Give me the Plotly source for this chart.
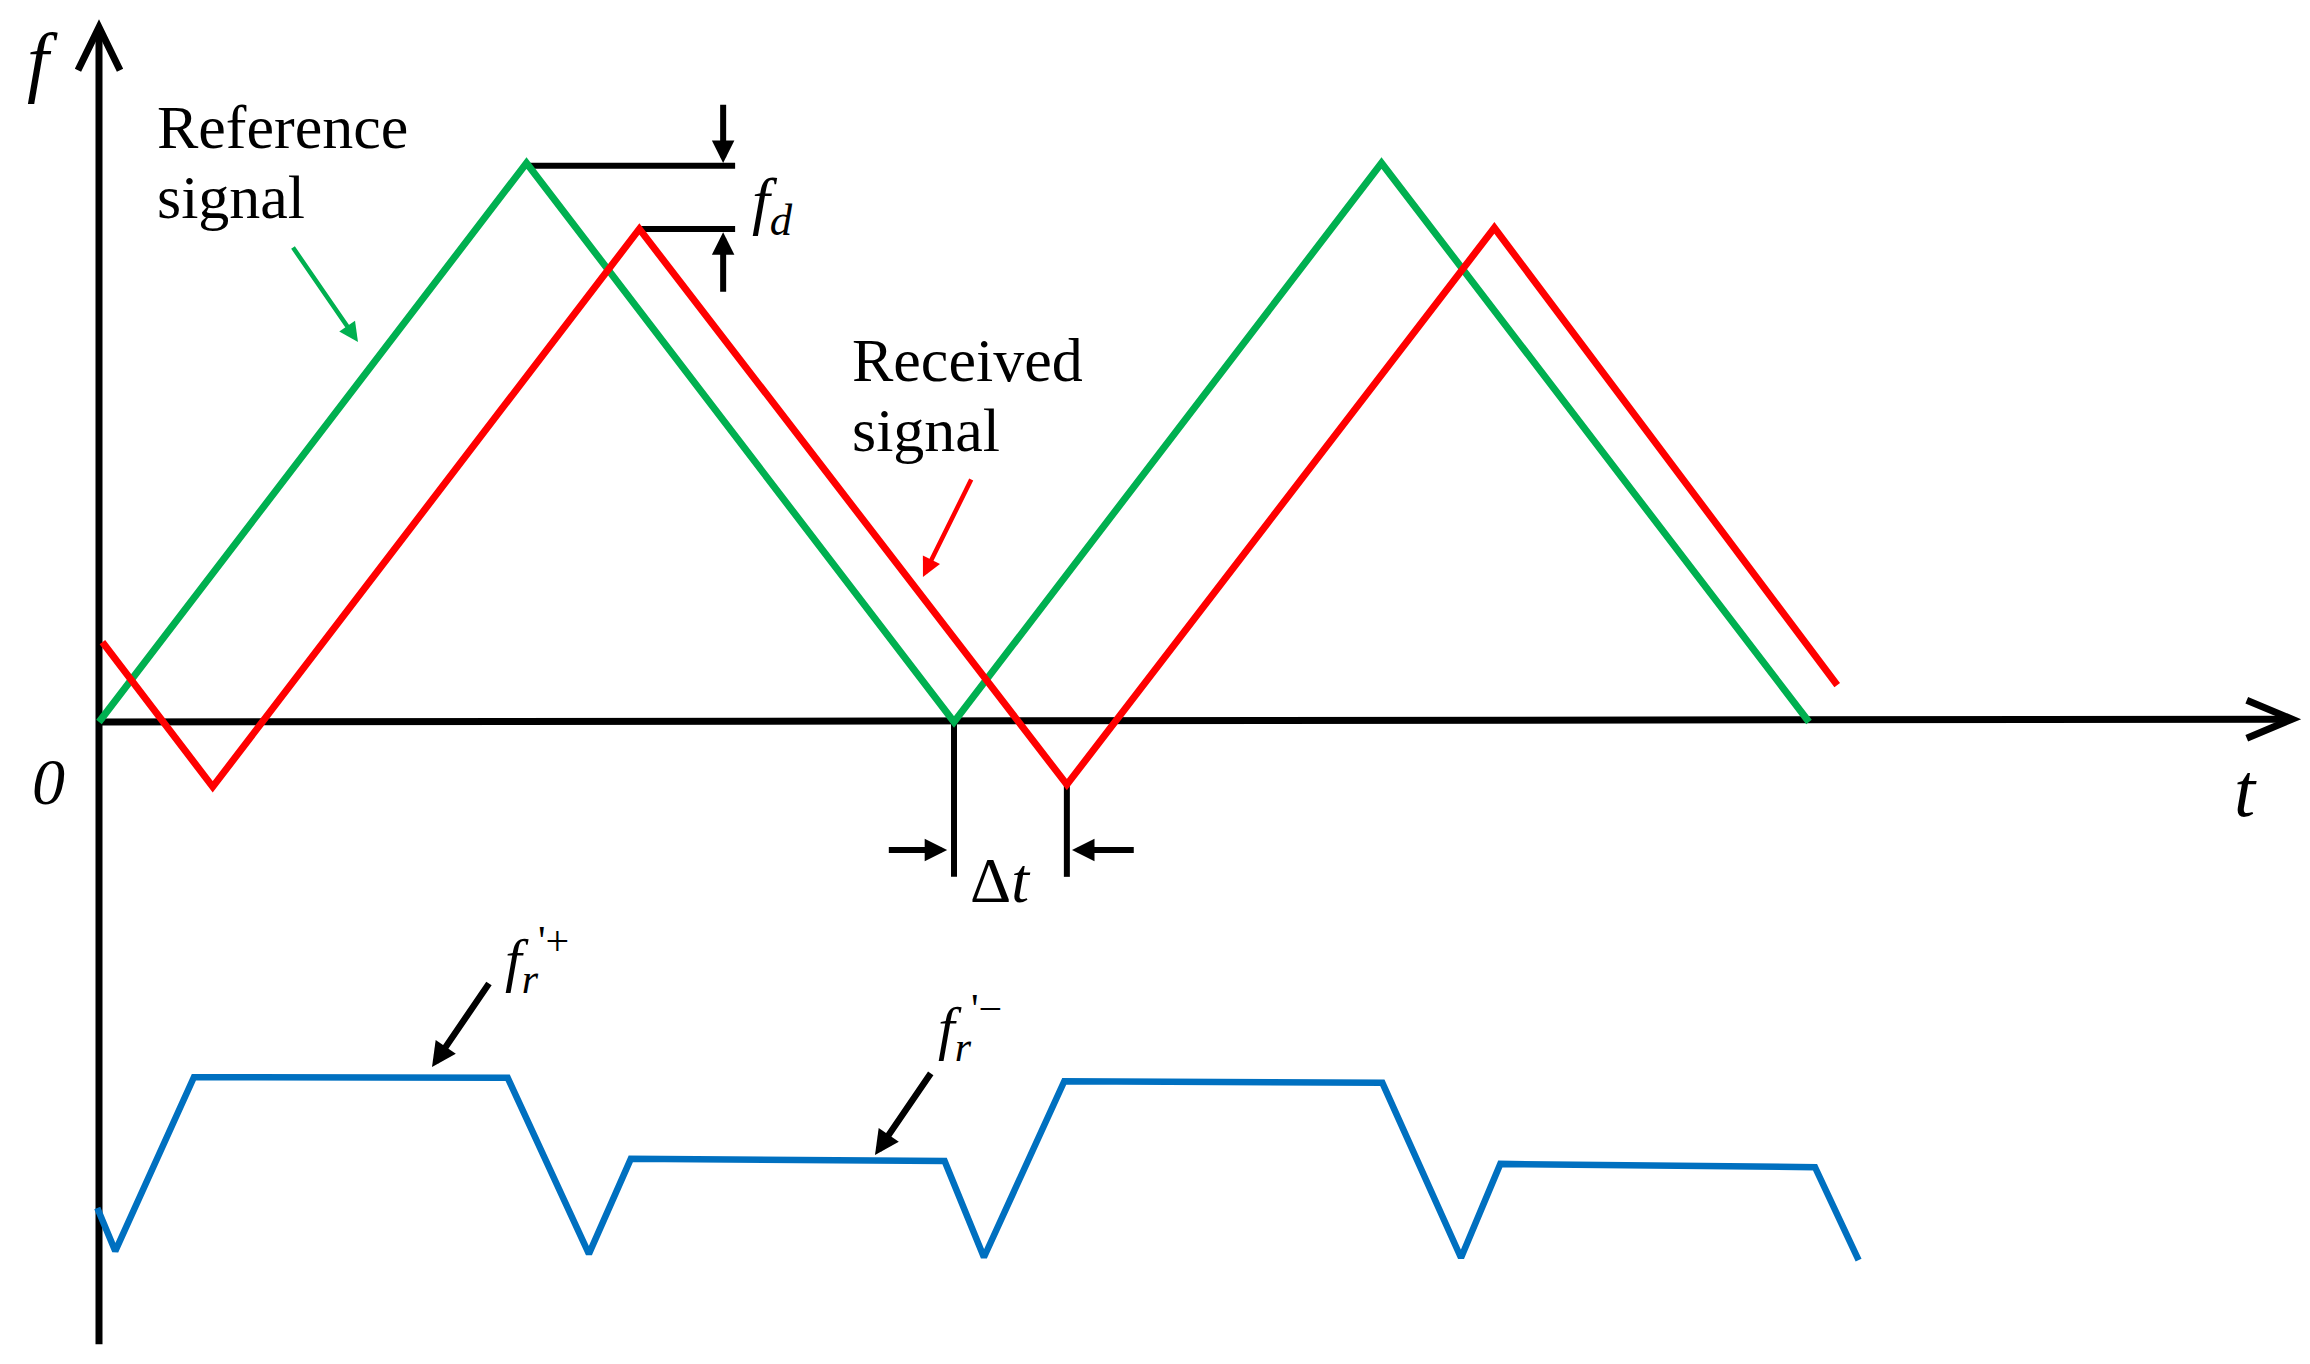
import plotly.graph_objects as go

# ---- data (time t in sweep periods, frequency f in units of sweep bandwidth) ----
ref_t = [0.0, 0.5, 1.0, 1.5, 2.0]
ref_f = [0.0, 1.0, 0.0, 1.0, 0.0]

rcv_t = [0.004, 0.133, 0.632, 1.132, 1.632, 2.033]
rcv_f = [0.143, -0.116, 0.882, -0.112, 0.884, 0.066]

beat_t = [-0.002, 0.019, 0.111, 0.478, 0.573, 0.622, 0.989, 1.035, 1.129, 1.501, 1.593, 1.639, 2.007, 2.058]
beat_f = [0.279, 0.202, 0.513, 0.512, 0.197, 0.367, 0.363, 0.191, 0.506, 0.503, 0.190, 0.358, 0.352, 0.186]

GREEN = "#00B050"
RED = "#FF0000"
BLUE = "#0070C0"
BLACK = "#000000"
SERIF = "Liberation Serif"

fig = go.Figure()
fig.add_trace(go.Scatter(x=ref_t, y=ref_f, mode="lines", line=dict(color=GREEN, width=7), showlegend=False, hoverinfo="skip"))
fig.add_trace(go.Scatter(x=rcv_t, y=rcv_f, mode="lines", line=dict(color=RED, width=7), showlegend=False, hoverinfo="skip"))
fig.add_trace(go.Scatter(x=beat_t, y=beat_f, mode="lines", yaxis="y2", line=dict(color=BLUE, width=6.5), showlegend=False, hoverinfo="skip"))

shapes = []
def seg(x0, y0, x1, y1, w=7, color=BLACK):
    shapes.append(dict(type="line", xref="x", yref="y", x0=x0, y0=y0, x1=x1, y1=y1,
                       line=dict(color=color, width=w), layer="below"))

def path(pts, w=7):
    d = "M " + " L ".join(f"{a},{b}" for a, b in pts)
    shapes.append(dict(type="path", xref="x", yref="y", path=d, line=dict(color=BLACK, width=w), layer="below"))

# axes
seg(0.0, -1.113, 0.0, 1.240)
path([(-0.0246, 1.166), (0.0, 1.243), (0.0246, 1.166)])
seg(-0.003, 0.0, 2.562, 0.005)
path([(2.512, 0.039), (2.565, 0.005), (2.512, -0.029)])

# f_d marker lines (from the peaks)
fd_x = 0.744
seg(ref_t[1], ref_f[1] - 0.005, fd_x, ref_f[1] - 0.005, w=6)
seg(rcv_t[2], rcv_f[2], fd_x, rcv_f[2], w=6)

# delta t marker lines (from the troughs)
dt_bot = -0.277
seg(ref_t[2], ref_f[2], ref_t[2], dt_bot, w=6)
seg(rcv_t[3], rcv_f[3], rcv_t[3], dt_bot, w=6)

ann = []
def arrow(xt, yt, xs, ys, color=BLACK, w=6, size=0.75):
    ann.append(dict(x=xt, y=yt, ax=xs, ay=ys, xref="x", yref="y", axref="x", ayref="y",
                    showarrow=True, arrowhead=2, arrowwidth=w, arrowsize=size,
                    arrowcolor=color, text="", standoff=0, startstandoff=0))

def label(x, y, text, size=62, xanchor="center", yanchor="middle"):
    ann.append(dict(x=x, y=y, xref="x", yref="y", text=text, showarrow=False,
                    xanchor=xanchor, yanchor=yanchor,
                    font=dict(family=SERIF, size=size, color=BLACK)))

# f_d arrows
arrow(0.730, 1.0, 0.730, 1.107)
arrow(0.730, 0.876, 0.730, 0.767)
# delta t arrows
arrow(0.992, -0.229, 0.922, -0.229)
arrow(1.138, -0.229, 1.212, -0.229)
# signal pointers
arrow(0.3029, 0.680, 0.2257, 0.8515, color=GREEN, w=4.5, size=0.85)
arrow(0.9637, 0.2594, 1.021, 0.4365, color=RED, w=4.5, size=0.85)
# beat pointers
arrow(0.3895, -0.6172, 0.4573, -0.4651, w=6.5, size=0.75)
arrow(0.9076, -0.7746, 0.974, -0.626, w=6.5, size=0.75)

# labels
label(-0.066, 1.184, "<i>f</i>", size=78)
label(-0.0596, -0.106, "<i>0</i>", size=66)
label(2.510, -0.122, "<i>t</i>", size=76)
label(0.0655, 1.064, "Reference", xanchor="left")
label(0.0655, 0.939, "signal", xanchor="left")
label(0.878, 0.648, "Received", xanchor="left")
label(0.878, 0.522, "signal", xanchor="left")
label(0.761, 0.925, "<i>f</i><sub><i>d</i></sub>", size=64, xanchor="left")
label(1.054, -0.283, "Δ<i>t</i>", size=64)
label(0.4725, -0.426, "<i>f</i><sub><i>r</i></sub><sup>'+</sup>", size=60, xanchor="left")
label(0.979, -0.547, "<i>f</i><sub><i>r</i></sub><sup>'−</sup>", size=60, xanchor="left")

W, H = 2310, 1364
fig.update_layout(
    width=W, height=H, margin=dict(l=0, r=0, t=0, b=0),
    paper_bgcolor="white", plot_bgcolor="white",
    shapes=shapes, annotations=ann,
    xaxis=dict(range=[-0.11579, 2.58596], visible=False, fixedrange=True),
    yaxis=dict(range=[-1.14848, 1.29159], visible=False, fixedrange=True),
    yaxis2=dict(range=[0.0, 2.44007], visible=False, overlaying="y", fixedrange=True),
    showlegend=False,
)

fig.write_html("out.html", include_plotlyjs=True, config={"displayModeBar": False},
               post_script="document.body.style.margin='0';document.body.style.overflow='hidden';")
